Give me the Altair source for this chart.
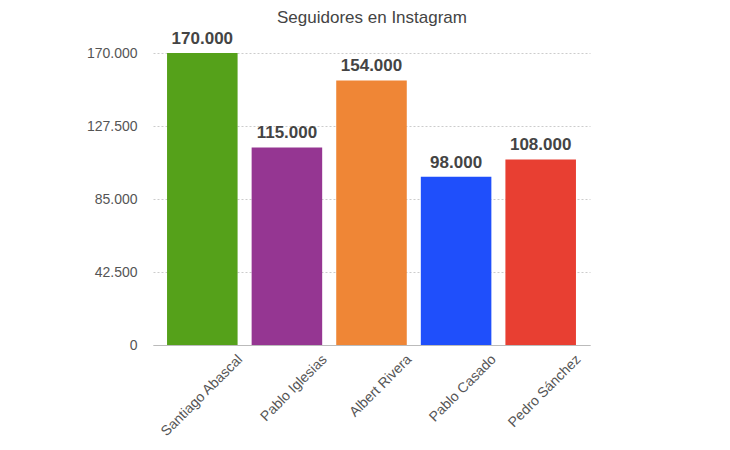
import altair as alt
import pandas as pd

names = ["Santiago Abascal", "Pablo Iglesias", "Albert Rivera", "Pablo Casado", "Pedro Sánchez"]
followers = [170000, 115000, 154000, 98000, 108000]
colors = ["#55a11a", "#953692", "#ef8636", "#1f4ffb", "#e83f32"]
y_ticks = [0, 42500, 85000, 127500, 170000]
title_text = "Seguidores en Instagram"

df = pd.DataFrame({"name": names, "followers": followers})

FONT = "Liberation Sans"

x = alt.X("name:N", sort=names, title=None,
          scale=alt.Scale(paddingInner=0.166, paddingOuter=0.166),
          axis=alt.Axis(labelAngle=-45, labelOffset=33, labelFontSize=14, labelColor="#555555",
                        labelFont=FONT, ticks=False, domainColor="#bbbbbb", labelPadding=7,
                        labelLimit=300, grid=False))
y = alt.Y("followers:Q", title=None,
          scale=alt.Scale(domain=[0, 170000], nice=False),
          axis=alt.Axis(values=y_ticks, format=",d", labelFontSize=14, labelColor="#555555",
                        labelFont=FONT, ticks=False, domain=False, labelPadding=16,
                        grid=True, gridDash=[2, 2], gridColor="#cccccc"))

bars = alt.Chart(df).mark_bar().encode(
    x=x, y=y,
    color=alt.Color("name:N", scale=alt.Scale(domain=names, range=colors), legend=None),
)
text = alt.Chart(df).mark_text(baseline="bottom", dy=-5, fontSize=17, fontWeight="bold",
                               color="#444444", font=FONT).encode(
    x=alt.X("name:N", sort=names), y="followers:Q", text=alt.Text("followers:Q", format=",d"))

title = alt.Chart(pd.DataFrame({"t": [title_text]})).mark_text(
    fontSize=17, color="#444444", font=FONT, baseline="middle", align="center"
).encode(x=alt.value(219), y=alt.value(-35), text="t:N")

chart = (bars + text + title).properties(
    width=437, height=292,
    autosize=alt.AutoSizeParams(type="none"),
    padding={"left": 145, "top": 45, "right": 130, "bottom": 100},
).configure(
    locale={"number": {"decimal": ",", "thousands": ".", "grouping": [3], "currency": ["", " €"]}}
).configure_view(stroke=None)

chart.save("out.html", embed_options={"renderer": "svg", "actions": False})
